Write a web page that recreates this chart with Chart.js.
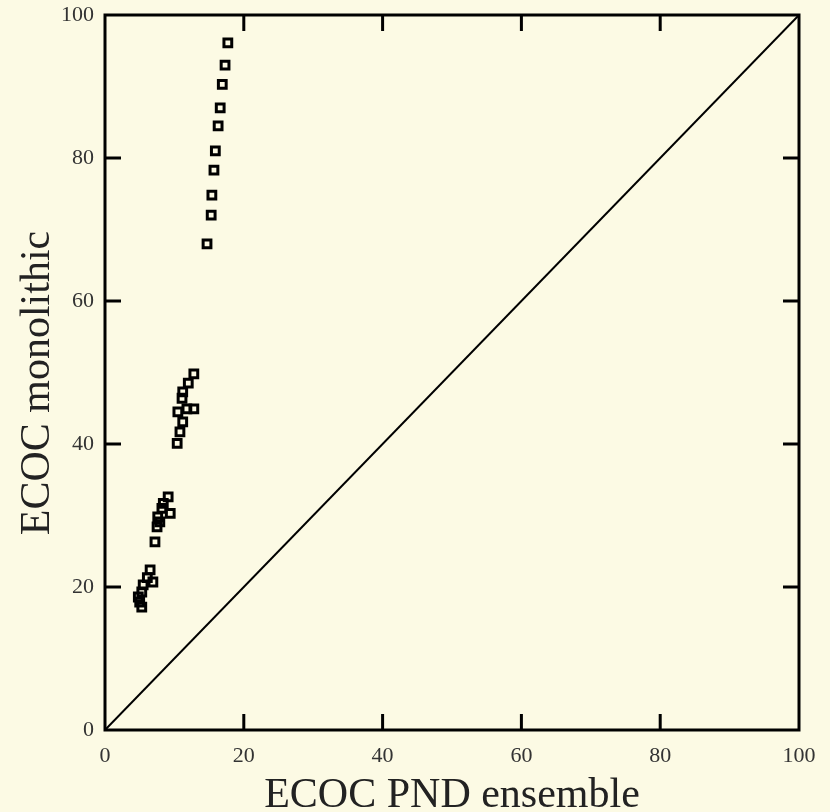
<!DOCTYPE html>
<html>
<head>
<meta charset="utf-8">
<script src="https://cdn.jsdelivr.net/npm/chart.js@4.4.1/dist/chart.umd.min.js"></script>
<style>
  html, body { margin: 0; padding: 0; background: #fcfae4; }
  #wrap { width: 830px; height: 812px; }
</style>
</head>
<body>
<div id="wrap"><canvas id="myChart" width="830" height="812"></canvas></div>
<script>
// error rates (%) of the ECOC PND ensemble vs the monolithic ECOC
var ensembleErr = [17.7, 17.3, 16.9, 16.6, 16.3, 15.9, 15.7, 15.4, 15.3, 14.7,
                   12.8, 12.0, 11.2, 11.1, 12.8, 11.8, 10.5, 11.2, 10.8, 10.4,
                   9.1, 8.4, 8.2, 9.4, 7.6, 7.9, 7.5, 7.2,
                   6.5, 6.1, 6.9, 5.5, 5.3, 4.8, 5.0, 5.3];
var monolithicErr = [96.1, 93.0, 90.3, 87.0, 84.5, 81.0, 78.3, 74.8, 72.0, 68.0,
                     49.8, 48.5, 47.3, 46.4, 44.9, 44.9, 44.5, 43.1, 41.7, 40.1,
                     32.6, 31.7, 31.0, 30.3, 29.8, 29.1, 28.4, 26.3,
                     22.4, 21.3, 20.7, 20.3, 19.3, 18.6, 17.9, 17.2];
var diagonal = [0, 100];
var tickValues = [0, 20, 40, 60, 80, 100];

var points = ensembleErr.map(function (x, i) { return { x: x, y: monolithicErr[i] }; });
var diag = diagonal.map(function (v) { return { x: v, y: v }; });

// frame around the plot and inward tick marks on all four sides
var framePlugin = {
  id: 'frame',
  afterDatasetsDraw: function (chart) {
    var ctx = chart.ctx, a = chart.chartArea;
    var xs = chart.scales.x, ys = chart.scales.y;
    var len = 16;
    ctx.save();
    ctx.strokeStyle = '#000';
    ctx.lineWidth = 3;
    ctx.strokeRect(a.left, a.top, a.right - a.left, a.bottom - a.top);
    ctx.beginPath();
    tickValues.slice(1, -1).forEach(function (v) {
      var px = xs.getPixelForValue(v);
      ctx.moveTo(px, a.bottom); ctx.lineTo(px, a.bottom - len);
      ctx.moveTo(px, a.top); ctx.lineTo(px, a.top + len);
      var py = ys.getPixelForValue(v);
      ctx.moveTo(a.left, py); ctx.lineTo(a.left + len, py);
      ctx.moveTo(a.right, py); ctx.lineTo(a.right - len, py);
    });
    ctx.stroke();
    ctx.restore();
  }
};

var ctx = document.getElementById('myChart').getContext('2d');
var chart = new Chart(ctx, {
  type: 'scatter',
  data: {
    datasets: [
      {
        label: 'diagonal',
        data: diag,
        showLine: true,
        borderColor: '#000',
        borderWidth: 2,
        pointRadius: 0
      },
      {
        label: 'runs',
        data: points,
        pointStyle: 'rect',
        pointRadius: 5.5,
        borderColor: '#000',
        borderWidth: 3,
        backgroundColor: 'rgba(0,0,0,0)'
      }
    ]
  },
  options: {
    responsive: false,
    animation: false,
    layout: { padding: { left: 0, right: 31, top: 15, bottom: 0 } },
    plugins: {
      legend: { display: false },
      tooltip: { enabled: false }
    },
    scales: {
      x: {
        type: 'linear',
        min: 0, max: 100,
        afterFit: function (s) { s.height = 82; s.paddingLeft = 0; s.paddingRight = 0; },
        grid: { display: false, drawTicks: false },
        border: { display: false },
        ticks: {
          stepSize: 20, padding: 13, color: '#333',
          font: { family: 'Liberation Serif', size: 22 }
        },
        title: {
          display: true, text: 'ECOC PND ensemble', color: '#222',
          font: { family: 'Liberation Serif', size: 42 },
          padding: { top: 0, bottom: -9 }
        }
      },
      y: {
        type: 'linear',
        min: 0, max: 100,
        afterFit: function (s) { s.width = 105; s.paddingTop = 0; s.paddingBottom = 0; },
        grid: { display: false, drawTicks: false },
        border: { display: false },
        ticks: {
          stepSize: 20, padding: 11, color: '#333',
          font: { family: 'Liberation Serif', size: 22 }
        },
        title: {
          display: true, text: 'ECOC monolithic  ', color: '#222',
          font: { family: 'Liberation Serif', size: 42 },
          padding: { top: 13, bottom: 0 }
        }
      }
    }
  },
  plugins: [framePlugin]
});
</script>
</body>
</html>
